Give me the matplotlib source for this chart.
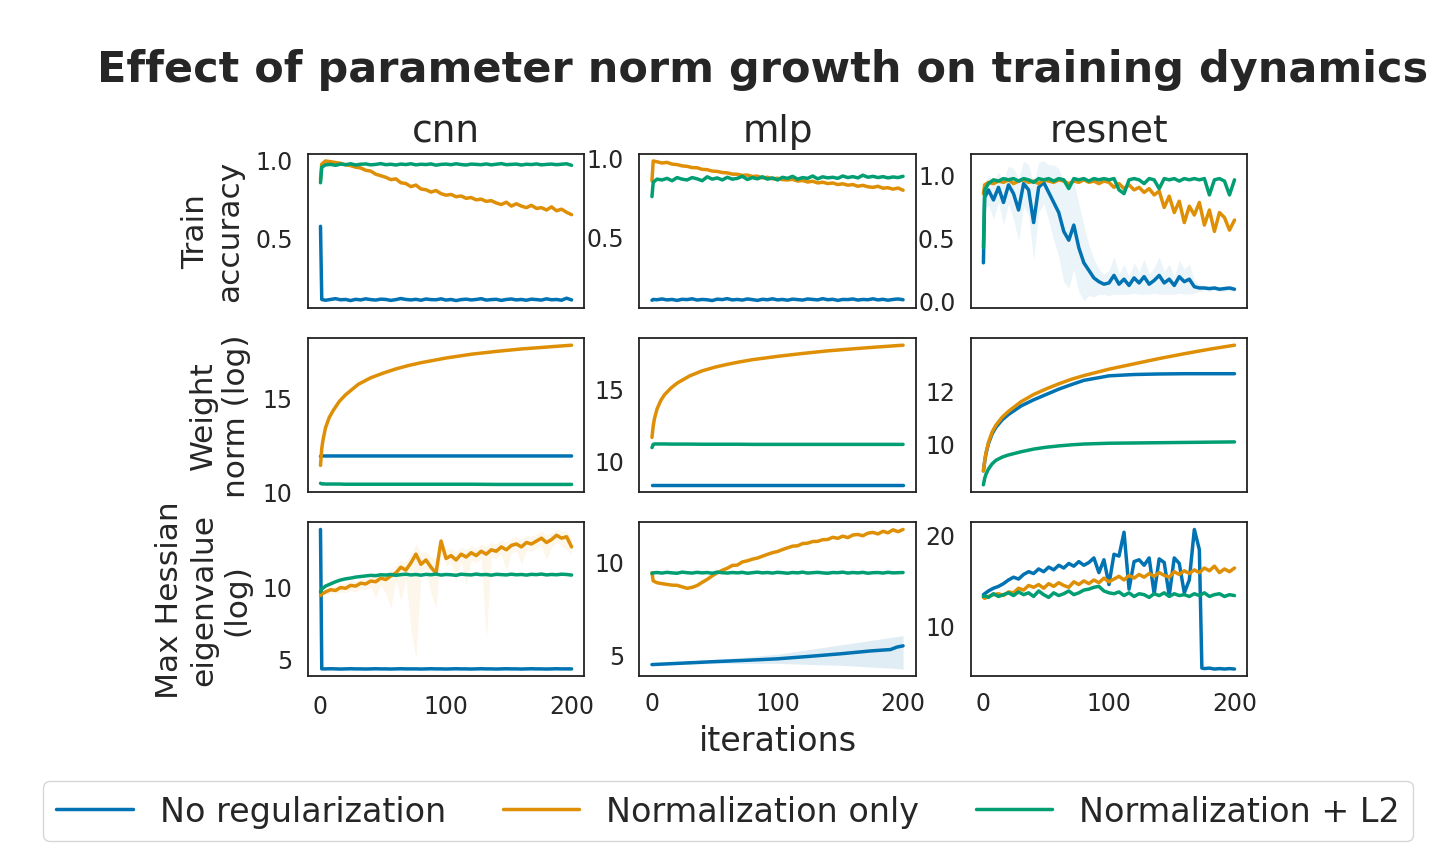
import matplotlib
matplotlib.use("Agg")
import matplotlib.pyplot as plt
import numpy as np
import seaborn as sns

# iterations at which the noisy curves were logged
ITERS = [0, 1] + list(range(4, 201, 4))
NORM_ITERS = [0, 1, 2, 4, 7, 10, 15, 20, 30, 40, 50, 60, 70, 80, 100, 120, 140, 160, 180, 200]
RESNET_HESS_NONE_ITERS = [0, 1] + list(range(4, 173, 4)) + [174] + list(range(176, 201, 4))
MLP_HESS_NONE_ITERS = [0, 25, 50, 75, 100, 125, 150, 175, 190, 195, 200]

MODELS = ["cnn", "mlp", "resnet"]
RUNS = ["No regularization", "Normalization only", "Normalization + L2"]
ROW_LABELS = ["Train\naccuracy", "Weight\nnorm (log)", "Max Hessian\neigenvalue\n(log)"]

# ---- train accuracy ----
CNN_ACC_NONE = [0.57, 0.10, 0.095, 0.10, 0.105, 0.098, 0.10, 0.093, 0.101, 0.097,
                0.104, 0.099, 0.096, 0.102, 0.10, 0.094, 0.099, 0.106, 0.10, 0.097,
                0.101, 0.095, 0.103, 0.099, 0.098, 0.104, 0.096, 0.10, 0.093, 0.099,
                0.102, 0.097, 0.10, 0.105, 0.096, 0.099, 0.101, 0.094, 0.10, 0.103,
                0.097, 0.10, 0.095, 0.102, 0.099, 0.096, 0.104, 0.098, 0.10, 0.095,
                0.108, 0.097]
CNN_ACC_NORM = [0.87, 0.97, 0.99, 0.985, 0.98, 0.975, 0.965, 0.96, 0.95, 0.945,
                0.93, 0.925, 0.905, 0.895, 0.885, 0.87, 0.875, 0.85, 0.845, 0.825,
                0.835, 0.81, 0.805, 0.79, 0.80, 0.78, 0.77, 0.775, 0.76, 0.765,
                0.75, 0.755, 0.74, 0.745, 0.73, 0.735, 0.72, 0.71, 0.725, 0.70,
                0.715, 0.70, 0.69, 0.705, 0.685, 0.69, 0.675, 0.695, 0.67, 0.68,
                0.66, 0.645]
CNN_ACC_L2 = [0.85, 0.95, 0.965, 0.968, 0.962, 0.97, 0.966, 0.972, 0.964, 0.969,
              0.971, 0.965, 0.968, 0.973, 0.966, 0.969, 0.964, 0.97, 0.967, 0.972,
              0.965, 0.969, 0.967, 0.971, 0.963, 0.968, 0.97, 0.966, 0.972, 0.967,
              0.964, 0.97, 0.968, 0.966, 0.971, 0.965, 0.969, 0.973, 0.966, 0.968,
              0.97, 0.964, 0.969, 0.967, 0.971, 0.965, 0.968, 0.97, 0.966, 0.969,
              0.972, 0.962]

MLP_ACC_NONE = [0.095, 0.10, 0.098, 0.103, 0.097, 0.10, 0.094, 0.101, 0.099, 0.104,
                0.096, 0.10, 0.098, 0.093, 0.102, 0.099, 0.105, 0.097, 0.10, 0.096,
                0.103, 0.099, 0.094, 0.101, 0.098, 0.104, 0.097, 0.10, 0.095, 0.102,
                0.099, 0.096, 0.103, 0.10, 0.097, 0.105, 0.098, 0.101, 0.094, 0.10,
                0.099, 0.103, 0.096, 0.10, 0.098, 0.104, 0.097, 0.101, 0.095, 0.10,
                0.103, 0.098]
MLP_ACC_NORM = [0.85, 0.975, 0.97, 0.962, 0.966, 0.955, 0.952, 0.944, 0.941, 0.933,
                0.932, 0.922, 0.92, 0.911, 0.909, 0.902, 0.90, 0.892, 0.891, 0.884,
                0.886, 0.877, 0.879, 0.868, 0.872, 0.862, 0.866, 0.857, 0.855, 0.859,
                0.848, 0.852, 0.842, 0.847, 0.836, 0.841, 0.832, 0.836, 0.826, 0.831,
                0.822, 0.826, 0.815, 0.821, 0.812, 0.808, 0.815, 0.803, 0.806, 0.797,
                0.804, 0.79]
MLP_ACC_L2 = [0.75, 0.84, 0.86, 0.855, 0.865, 0.85, 0.87, 0.86, 0.855, 0.87,
              0.862, 0.85, 0.875, 0.86, 0.868, 0.855, 0.872, 0.86, 0.865, 0.878,
              0.858, 0.87, 0.862, 0.875, 0.86, 0.868, 0.855, 0.872, 0.865, 0.878,
              0.86, 0.87, 0.865, 0.88, 0.862, 0.875, 0.868, 0.872, 0.865, 0.88,
              0.87, 0.876, 0.868, 0.885, 0.872, 0.878, 0.87, 0.876, 0.868, 0.874,
              0.87, 0.878]

RESNET_ACC_NONE = [0.30, 0.82, 0.88, 0.80, 0.90, 0.78, 0.92, 0.85, 0.72, 0.93,
                   0.88, 0.62, 0.90, 0.94, 0.86, 0.78, 0.70, 0.55, 0.48, 0.60,
                   0.42, 0.30, 0.24, 0.18, 0.15, 0.13, 0.14, 0.20, 0.13, 0.17,
                   0.12, 0.18, 0.14, 0.19, 0.13, 0.16, 0.20, 0.14, 0.17, 0.12,
                   0.19, 0.15, 0.17, 0.11, 0.10, 0.10, 0.095, 0.10, 0.09, 0.095,
                   0.10, 0.09]
RESNET_ACC_NONE_SPREAD = [0.02, 0.10, 0.12, 0.15, 0.12, 0.18, 0.15, 0.20, 0.25, 0.18,
                          0.20, 0.30, 0.20, 0.17, 0.22, 0.30, 0.35, 0.40, 0.38, 0.35,
                          0.35, 0.30, 0.20, 0.15, 0.10, 0.08, 0.10, 0.15, 0.08, 0.12,
                          0.07, 0.12, 0.09, 0.14, 0.08, 0.10, 0.15, 0.09, 0.12, 0.07,
                          0.13, 0.10, 0.12, 0.05, 0.03, 0.02, 0.02, 0.02, 0.02, 0.02,
                          0.02, 0.02]
RESNET_ACC_NORM = [0.85, 0.92, 0.94, 0.93, 0.95, 0.94, 0.96, 0.93, 0.95, 0.96,
                   0.94, 0.95, 0.93, 0.96, 0.95, 0.94, 0.96, 0.95, 0.93, 0.95,
                   0.94, 0.96, 0.94, 0.95, 0.93, 0.95, 0.94, 0.90, 0.93, 0.89,
                   0.92, 0.88, 0.90, 0.86, 0.89, 0.84, 0.87, 0.74, 0.83, 0.70,
                   0.79, 0.62, 0.75, 0.68, 0.78, 0.60, 0.72, 0.55, 0.70, 0.66,
                   0.56, 0.64]
RESNET_ACC_L2 = [0.42, 0.88, 0.93, 0.96, 0.95, 0.97, 0.96, 0.97, 0.95, 0.97,
                 0.96, 0.94, 0.97, 0.96, 0.97, 0.95, 0.97, 0.96, 0.89, 0.97,
                 0.96, 0.97, 0.95, 0.97, 0.96, 0.97, 0.96, 0.97, 0.88, 0.85,
                 0.96, 0.97, 0.96, 0.93, 0.97, 0.96, 0.89, 0.97, 0.96, 0.97,
                 0.95, 0.97, 0.96, 0.97, 0.96, 0.97, 0.84, 0.96, 0.97, 0.95,
                 0.84, 0.96]

# ---- weight norm ----
CNN_NORM_NONE = [11.88, 11.9, 11.9, 11.9, 11.9, 11.9, 11.9, 11.9, 11.9, 11.9,
                 11.9, 11.9, 11.9, 11.9, 11.9, 11.9, 11.9, 11.9, 11.9, 11.9]
CNN_NORM_NORM = [11.4, 12.3, 12.75, 13.4, 13.95, 14.3, 14.8, 15.15, 15.7, 16.05,
                 16.3, 16.52, 16.7, 16.85, 17.1, 17.3, 17.45, 17.58, 17.68, 17.78]
CNN_NORM_L2 = [10.45, 10.42, 10.42, 10.41, 10.41, 10.41, 10.41, 10.4, 10.4, 10.4,
               10.4, 10.4, 10.4, 10.4, 10.4, 10.4, 10.39, 10.39, 10.39, 10.39]

MLP_NORM_NONE = [8.33, 8.33, 8.33, 8.33, 8.33, 8.33, 8.33, 8.33, 8.33, 8.33,
                 8.33, 8.33, 8.33, 8.33, 8.33, 8.33, 8.33, 8.33, 8.33, 8.33]
MLP_NORM_NORM = [11.6, 12.4, 12.9, 13.55, 14.15, 14.55, 15.0, 15.35, 15.85, 16.2,
                 16.45, 16.65, 16.82, 16.97, 17.2, 17.4, 17.58, 17.72, 17.85, 17.97]
MLP_NORM_L2 = [10.9, 11.12, 11.15, 11.15, 11.15, 11.15, 11.14, 11.14, 11.14, 11.13,
               11.13, 11.13, 11.13, 11.12, 11.12, 11.12, 11.12, 11.12, 11.12, 11.12]

RESNET_NORM_NONE = [8.98, 9.33, 9.62, 10.0, 10.38, 10.62, 10.9, 11.1, 11.42, 11.65,
                    11.85, 12.05, 12.22, 12.38, 12.55, 12.6, 12.62, 12.63, 12.63, 12.63]
RESNET_NORM_NORM = [8.98, 9.35, 9.65, 10.05, 10.45, 10.7, 11.0, 11.22, 11.58, 11.85,
                    12.06, 12.25, 12.42, 12.56, 12.8, 13.0, 13.2, 13.38, 13.55, 13.7]
RESNET_NORM_L2 = [8.46, 8.7, 8.85, 9.05, 9.25, 9.38, 9.5, 9.58, 9.7, 9.8,
                  9.87, 9.92, 9.96, 9.99, 10.02, 10.03, 10.04, 10.05, 10.06, 10.07]

# ---- max hessian eigenvalue ----
CNN_HESS_NONE = [13.9, 4.3, 4.3, 4.31, 4.3, 4.29, 4.3, 4.31, 4.3, 4.3,
                 4.29, 4.3, 4.31, 4.3, 4.3, 4.29, 4.3, 4.31, 4.3, 4.3,
                 4.3, 4.29, 4.3, 4.31, 4.3, 4.3, 4.29, 4.3, 4.31, 4.3,
                 4.3, 4.29, 4.3, 4.31, 4.3, 4.3, 4.29, 4.3, 4.31, 4.3,
                 4.3, 4.29, 4.3, 4.31, 4.3, 4.3, 4.29, 4.3, 4.31, 4.3,
                 4.3, 4.3]
CNN_HESS_NORM = [9.35, 9.45, 9.6, 9.75, 9.7, 9.9, 9.85, 10.05, 10.0, 10.2,
                 10.15, 10.35, 10.3, 10.55, 10.45, 10.7, 10.9, 11.3, 11.1, 11.6,
                 12.2, 11.5, 11.8, 11.3, 10.9, 13.1, 11.9, 12.1, 11.8, 12.2,
                 12.0, 12.3, 12.1, 12.4, 12.2, 12.5, 12.4, 12.7, 12.5, 12.8,
                 12.9, 12.7, 13.0, 12.9, 13.1, 13.3, 13.0, 13.2, 13.5, 13.3,
                 13.4, 12.7]
CNN_HESS_NORM_LO = [9.3, 9.3, 9.4, 9.5, 9.45, 9.6, 9.55, 9.7, 9.6, 9.8,
                    9.8, 9.9, 9.2, 10.1, 9.5, 8.5, 10.4, 9.0, 10.5, 7.0,
                    5.0, 10.9, 11.2, 9.5, 8.5, 12.4, 11.4, 11.6, 10.3, 11.7,
                    10.0, 11.8, 11.6, 11.9, 6.4, 12.0, 11.9, 12.2, 11.0, 12.3,
                    12.4, 11.5, 12.5, 12.4, 12.6, 12.8, 11.8, 12.7, 13.0, 12.8,
                    12.5, 12.2]
CNN_HESS_NORM_HI = [9.4, 9.6, 9.8, 10.0, 10.0, 10.2, 10.2, 10.4, 10.3, 10.5,
                    10.5, 10.7, 10.7, 10.9, 10.9, 11.1, 11.4, 11.8, 11.7, 12.2,
                    12.9, 12.3, 12.4, 12.0, 11.9, 13.5, 12.5, 12.6, 12.4, 12.7,
                    12.5, 12.8, 12.6, 12.9, 12.7, 13.0, 12.9, 13.2, 13.0, 13.3,
                    13.4, 13.2, 13.5, 13.4, 13.6, 13.8, 13.5, 13.7, 13.9, 13.8,
                    13.8, 13.3]
CNN_HESS_L2 = [9.6, 9.8, 10.0, 10.15, 10.3, 10.42, 10.5, 10.55, 10.62, 10.66,
               10.7, 10.74, 10.72, 10.78, 10.76, 10.8, 10.74, 10.79, 10.82, 10.77,
               10.8, 10.75, 10.81, 10.78, 10.83, 10.76, 10.8, 10.78, 10.74, 10.82,
               10.79, 10.77, 10.83, 10.78, 10.8, 10.75, 10.81, 10.79, 10.77, 10.82,
               10.78, 10.8, 10.76, 10.81, 10.79, 10.83, 10.77, 10.8, 10.78, 10.82,
               10.8, 10.76]

MLP_HESS_NONE = [4.44, 4.52, 4.6, 4.67, 4.75, 4.88, 5.02, 5.18, 5.25, 5.38, 5.45]
MLP_HESS_NONE_LO = [4.4, 4.45, 4.5, 4.5, 4.5, 4.45, 4.4, 4.3, 4.25, 4.22, 4.2]
MLP_HESS_NONE_HI = [4.5, 4.6, 4.72, 4.85, 5.0, 5.25, 5.5, 5.75, 5.9, 5.95, 6.0]
MLP_HESS_NORM = [9.39, 8.95, 8.85, 8.8, 8.76, 8.72, 8.71, 8.63, 8.55, 8.6,
                 8.7, 8.87, 9.03, 9.22, 9.38, 9.52, 9.63, 9.78, 9.8, 9.97,
                 10.03, 10.12, 10.18, 10.28, 10.38, 10.47, 10.53, 10.64, 10.73, 10.82,
                 10.84, 10.96, 10.98, 11.07, 11.08, 11.17, 11.18, 11.3, 11.24, 11.36,
                 11.28, 11.42, 11.45, 11.38, 11.52, 11.56, 11.48, 11.62, 11.54, 11.7,
                 11.6, 11.72]
MLP_HESS_L2 = [9.35, 9.38, 9.4, 9.37, 9.41, 9.38, 9.36, 9.42, 9.39, 9.37,
               9.41, 9.38, 9.4, 9.36, 9.42, 9.39, 9.37, 9.4, 9.38, 9.41,
               9.36, 9.39, 9.42, 9.38, 9.4, 9.37, 9.41, 9.39, 9.36, 9.4,
               9.38, 9.42, 9.37, 9.39, 9.41, 9.38, 9.36, 9.4, 9.39, 9.42,
               9.37, 9.4, 9.38, 9.41, 9.36, 9.39, 9.4, 9.37, 9.41, 9.38,
               9.39, 9.4]

RESNET_HESS_NONE = [13.4, 13.5, 13.8, 14.1, 14.3, 14.6, 15.0, 15.3, 15.1, 15.6,
                    15.9, 15.7, 16.2, 15.9, 16.4, 16.1, 16.6, 16.3, 16.8, 16.5,
                    17.0, 16.6, 16.9, 17.4, 15.8, 17.2, 14.5, 17.8, 17.6, 20.2,
                    14.0, 17.0, 17.2, 16.6, 17.4, 13.5, 17.3, 16.9, 13.3, 17.4,
                    16.8, 13.6, 15.0, 20.5, 18.3, 5.4, 5.35, 5.4, 5.3, 5.35,
                    5.3, 5.35, 5.3]
RESNET_HESS_NORM = [13.1, 13.0, 13.2, 13.4, 13.5, 13.3, 13.7, 13.6, 14.1, 13.9,
                    14.4, 14.2, 14.5, 14.1, 14.6, 14.3, 14.7, 14.4, 14.2, 14.8,
                    14.5, 14.9, 14.6, 15.0, 14.7, 15.2, 14.8, 15.1, 15.4, 15.0,
                    15.5, 15.2, 15.6, 15.3, 15.7, 15.4, 15.8, 15.5, 15.3, 15.9,
                    15.6, 16.0, 15.7, 16.1, 15.8, 16.3, 16.0, 16.5, 15.8, 16.2,
                    15.9, 16.3]
RESNET_HESS_L2 = [13.2, 13.3, 13.1, 13.5, 13.2, 13.4, 13.6, 13.3, 13.7, 13.4,
                  13.6, 13.2, 13.8, 13.4, 13.1, 13.6, 13.3, 13.5, 13.8, 13.4,
                  13.6, 13.9, 14.0, 14.2, 14.3, 13.8, 13.6, 13.5, 13.7, 13.3,
                  13.6, 13.2, 13.5, 13.4, 13.1, 13.5, 13.3, 13.6, 13.2, 13.5,
                  13.3, 13.4, 13.2, 13.5, 13.3, 13.6, 13.2, 13.4, 13.5, 13.2,
                  13.4, 13.3]

YTICKS = [[[0.5, 1.0], [0.5, 1.0], [0.0, 0.5, 1.0]],
          [[10, 15], [10, 15], [10, 12]],
          [[5, 10], [5, 10], [10, 20]]]

sns.set_style("white")
plt.rcParams['font.family'] = ['DejaVu Sans']
colors = sns.color_palette("colorblind")[:3]

# rows x cols x runs: (x, y)
panels = [
    [[(ITERS, CNN_ACC_NONE), (ITERS, CNN_ACC_NORM), (ITERS, CNN_ACC_L2)],
     [(ITERS, MLP_ACC_NONE), (ITERS, MLP_ACC_NORM), (ITERS, MLP_ACC_L2)],
     [(ITERS, RESNET_ACC_NONE), (ITERS, RESNET_ACC_NORM), (ITERS, RESNET_ACC_L2)]],
    [[(NORM_ITERS, CNN_NORM_NONE), (NORM_ITERS, CNN_NORM_NORM), (NORM_ITERS, CNN_NORM_L2)],
     [(NORM_ITERS, MLP_NORM_NONE), (NORM_ITERS, MLP_NORM_NORM), (NORM_ITERS, MLP_NORM_L2)],
     [(NORM_ITERS, RESNET_NORM_NONE), (NORM_ITERS, RESNET_NORM_NORM), (NORM_ITERS, RESNET_NORM_L2)]],
    [[(ITERS, CNN_HESS_NONE), (ITERS, CNN_HESS_NORM), (ITERS, CNN_HESS_L2)],
     [(MLP_HESS_NONE_ITERS, MLP_HESS_NONE), (ITERS, MLP_HESS_NORM), (ITERS, MLP_HESS_L2)],
     [(RESNET_HESS_NONE_ITERS, RESNET_HESS_NONE), (ITERS, RESNET_HESS_NORM), (ITERS, RESNET_HESS_L2)]],
]

fig, axes = plt.subplots(3, 3, figsize=(14.56, 8.62), dpi=100, sharex=True)
fig.subplots_adjust(left=0.2115, right=0.8565, top=0.8202, bottom=0.2146,
                    wspace=0.2, hspace=0.2)

# shaded spread around a few runs
acc_none = np.array(RESNET_ACC_NONE)
acc_spread = np.array(RESNET_ACC_NONE_SPREAD)
axes[0, 2].fill_between(ITERS, acc_none - acc_spread, acc_none + acc_spread,
                        color=colors[0], alpha=0.08, lw=0)
axes[2, 0].fill_between(ITERS, CNN_HESS_NORM_LO, CNN_HESS_NORM_HI,
                        color=colors[1], alpha=0.08, lw=0)
axes[2, 1].fill_between(MLP_HESS_NONE_ITERS, MLP_HESS_NONE_LO, MLP_HESS_NONE_HI,
                        color=colors[0], alpha=0.12, lw=0)

for r in range(3):
    for c in range(3):
        ax = axes[r, c]
        for k, (x, y) in enumerate(panels[r][c]):
            ax.plot(x, y, color=colors[k], lw=2.5, label=RUNS[k])
        ax.set_yticks(YTICKS[r][c])
        ax.tick_params(axis='both', labelsize=17, length=0, pad=11)
        for sp in ax.spines.values():
            sp.set_color('#222222')
            sp.set_linewidth(1.3)
        if r == 0:
            ax.set_title(MODELS[c], fontsize=27, pad=9)
        if c == 0:
            ax.set_ylabel(ROW_LABELS[r], fontsize=22.5, labelpad=8)

axes[2, 0].set_xticks([0, 100, 200])
axes[2, 0].tick_params(axis='x', pad=13)
axes[2, 1].set_xlabel("iterations", fontsize=24, labelpad=6)

fig.suptitle("Effect of parameter norm growth on training dynamics",
             fontsize=31, fontweight='bold', x=0.524, y=0.919, va='center')

handles, labels = axes[0, 0].get_legend_handles_labels()
fig.legend(handles, labels, loc='lower center', bbox_to_anchor=(0.5, 0.004),
           ncol=3, fontsize=24, frameon=True, handlelength=2.3, columnspacing=1.7)

fig.savefig("out.png", dpi=100)
